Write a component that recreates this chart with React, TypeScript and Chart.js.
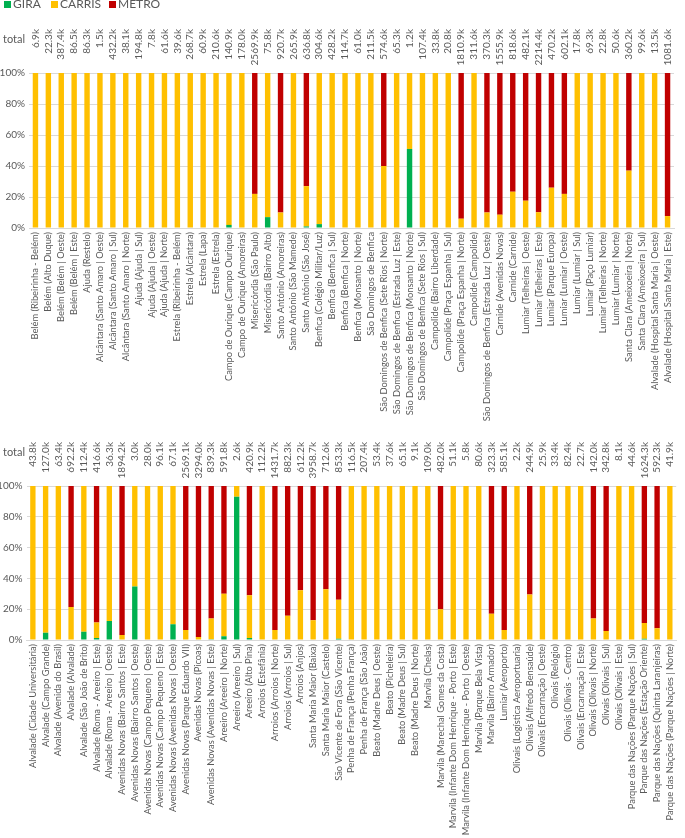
import React, { useEffect, useRef } from 'react';
import { Chart, registerables } from 'chart.js';

Chart.register(...registerables);

const GREEN = '#00b050';
const YELLOW = '#ffc000';
const RED = '#c00000';
const TEXT = '#595959';
const GRID = '#d9d9d9';
const FONT = 'Lato';

const seriesNames = ['GIRA', 'CARRIS', 'METRO'];
const yTickValues = [0, 20, 40, 60, 80, 100];

// ---------- Top panel ----------
const topCategories = [
  'Belém (Ribeirinha - Belém)',
  'Belém (Alto Duque)',
  'Belém (Belém | Oeste)',
  'Belém (Belém | Este)',
  'Ajuda (Restelo)',
  'Alcântara (Santo Amaro | Oeste)',
  'Alcântara (Santo Amaro | Sul)',
  'Alcântara (Santo Amaro | Norte)',
  'Ajuda (Ajuda | Sul)',
  'Ajuda (Ajuda | Oeste)',
  'Ajuda (Ajuda | Norte)',
  'Estrela (Ribeirinha - Belém)',
  'Estrela (Alcântara)',
  'Estrela (Lapa)',
  'Estrela (Estrela)',
  'Campo de Ourique (Campo Ourique)',
  'Campo de Ourique (Amoreiras)',
  'Misericórdia (São Paulo)',
  'Misericórdia (Bairro Alto)',
  'Santo António (Amoreiras)',
  'Santo António (São Mamede)',
  'Santo António (São José)',
  'Benfica (Colégio Militar/Luz)',
  'Benfica (Benfica | Sul)',
  'Benfica (Benfica | Norte)',
  'Benfica (Monsanto | Norte)',
  'São Domingos de Benfica',
  'São Domingos de Benfica (Sete Rios | Norte)',
  'São Domingos de Benfica (Estrada Luz | Este)',
  'São Domingos de Benfica (Monsanto | Norte)',
  'São Domingos de Benfica (Sete Rios | Sul)',
  'Campolide (Bairro Liberdade)',
  'Campolide (Praça Espanha | Sul)',
  'Campolide (Praça Espanha | Norte)',
  'Campolide (Campolide)',
  'São Domingos de Benfica (Estrada Luz | Oeste)',
  'Carnide (Avenidas Novas)',
  'Carnide (Carnide)',
  'Lumiar (Telheiras | Oeste)',
  'Lumiar (Telheiras | Este)',
  'Lumiar (Parque Europa)',
  'Lumiar (Lumiar | Oeste)',
  'Lumiar (Lumiar | Sul)',
  'Lumiar (Paço Lumiar)',
  'Lumiar (Telheiras | Norte)',
  'Lumiar (Lumiar | Norte)',
  'Santa Clara (Ameixoeira | Norte)',
  'Santa Clara (Ameixoeira | Sul)',
  'Alvalade (Hospital Santa Maria | Oeste)',
  'Alvalade (Hospital Santa Maria | Este)',
];

// totals in thousands
const topTotals = [
  6.9, 22.3, 387.4, 86.5, 86.3, 1.5, 432.2, 38.1, 194.8, 7.8,
  61.6, 39.6, 268.7, 60.9, 210.6, 140.9, 178.0, 2569.9, 75.8, 920.7,
  265.9, 636.8, 304.6, 428.2, 114.7, 61.0, 211.5, 574.6, 65.3, 1.2,
  107.4, 33.8, 20.8, 1810.9, 311.6, 370.3, 1555.9, 818.6, 482.1, 2214.4,
  470.2, 602.1, 17.8, 69.3, 22.8, 50.6, 360.2, 99.6, 13.5, 1081.6,
];

// shares in %
const topGira = [
  0, 0, 0, 0, 0, 0, 0, 0, 0, 0,
  0, 0, 0, 0, 0, 2, 0, 0, 7, 0,
  0, 1, 2.5, 0, 0, 0, 0, 0, 0, 51,
  0, 0, 0, 0, 0, 0, 0, 0, 0, 0.5,
  0, 0, 0, 0, 0, 0, 0, 0, 0, 0,
];
const topCarris = [
  100, 100, 100, 100, 100, 100, 100, 100, 100, 100,
  100, 100, 100, 100, 100, 98, 100, 22, 93, 10,
  100, 26, 97.5, 100, 100, 100, 100, 40, 100, 49,
  100, 100, 100, 6, 100, 10, 8.6, 23.4, 17.6, 9.7,
  26, 22, 100, 100, 100, 100, 37, 100, 100, 7.7,
];
const topMetro = [
  0, 0, 0, 0, 0, 0, 0, 0, 0, 0,
  0, 0, 0, 0, 0, 0, 0, 78, 0, 90,
  0, 73, 0, 0, 0, 0, 0, 60, 0, 0,
  0, 0, 0, 94, 0, 90, 91.4, 76.6, 82.4, 89.8,
  74, 78, 0, 0, 0, 0, 63, 0, 0, 92.3,
];

// ---------- Bottom panel ----------
const bottomCategories = [
  'Alvalade (Cidade Universitária)',
  'Alvalade (Campo Grande)',
  'Alvalade (Avenida do Brasil)',
  'Alvalade (Alvalade)',
  'Alvalade (São João de Brito)',
  'Alvalade (Roma - Areeiro | Este)',
  'Alvalade (Roma - Areeiro | Oeste)',
  'Avenidas Novas (Bairro Santos | Este)',
  'Avenidas Novas (Bairro Santos | Oeste)',
  'Avenidas Novas (Campo Pequeno | Oeste)',
  'Avenidas Novas (Campo Pequeno | Este)',
  'Avenidas Novas (Avenidas Novas | Oeste)',
  'Avenidas Novas (Parque Eduardo VII)',
  'Avenidas Novas (Picoas)',
  'Avenidas Novas (Avenidas Novas | Este)',
  'Areeiro (Areeiro | Norte)',
  'Areeiro (Areeiro | Sul)',
  'Areeiro (Alto Pina)',
  'Arroios (Estefânia)',
  'Arroios (Arroios | Norte)',
  'Arroios (Arroios | Sul)',
  'Arroios (Anjos)',
  'Santa Maria Maior (Baixa)',
  'Santa Maria Maior (Castelo)',
  'São Vicente de Fora (São Vicente)',
  'Penha de França (Penha França)',
  'Penha de França (São João)',
  'Beato (Madre Deus | Oeste)',
  'Beato (Picheleira)',
  'Beato (Madre Deus | Sul)',
  'Beato (Madre Deus | Norte)',
  'Marvila (Chelas)',
  'Marvila (Marechal Gomes da Costa)',
  'Marvila (Infante Dom Henrique - Porto | Este)',
  'Marvila (Infante Dom Henrique - Porto | Oeste)',
  'Marvila (Parque Bela Vista)',
  'Marvila (Bairro Armador)',
  'Lumiar (Aeroporto)',
  'Olivais (Logística Aeroportuaria)',
  'Olivais (Alfredo Bensaúde)',
  'Olivais (Encarnação | Oeste)',
  'Olivais (Relógio)',
  'Olivais (Olivais - Centro)',
  'Olivais (Encarnação | Este)',
  'Olivais (Olivais | Norte)',
  'Olivais (Olivais | Sul)',
  'Olivais (Olivais | Este)',
  'Parque das Nações (Parque Nações | Sul)',
  'Parque das Nações (Estação Oriente)',
  'Parque das Nações (Quinta Laranjeiras)',
  'Parque das Nações (Parque Nações | Norte)',
];

const bottomTotals = [
  43.8, 127.0, 63.4, 692.2, 112.4, 416.6, 36.3, 1894.2, 3.0, 28.0,
  96.1, 67.1, 2569.1, 3294.0, 839.3, 591.8, 2.6, 420.9, 112.2, 1431.7,
  882.3, 612.2, 3958.7, 712.6, 853.3, 116.5, 207.4, 53.4, 37.6, 65.1,
  9.1, 109.0, 482.0, 51.1, 5.8, 80.6, 323.3, 585.1, 2.2, 244.9,
  25.9, 33.4, 82.4, 22.7, 142.0, 342.8, 8.1, 44.6, 1624.3, 592.3,
  41.9,
];

const bottomGira = [
  0, 4.7, 0, 0, 5.4, 1.3, 12.3, 0, 34.8, 0,
  0, 10.3, 0, 0, 0.5, 2.4, 93, 1.3, 0, 0,
  0, 0, 0, 0, 0.8, 0, 0, 0, 0, 0,
  0, 0, 0, 0, 0, 0, 0, 0, 0, 0,
  0, 0, 0, 0, 0, 0, 0, 0, 0.8, 0,
  0,
];
const bottomCarris = [
  100, 95.3, 100, 21.5, 94.6, 10, 87.7, 3.2, 65.2, 100,
  100, 89.7, 6.5, 2, 13.5, 27.6, 7, 27.7, 100, 6.5,
  15.7, 32.3, 12.9, 32.9, 25.4, 100, 100, 100, 100, 100,
  100, 100, 20, 100, 100, 100, 17, 6.5, 100, 29.5,
  100, 100, 100, 100, 14, 5.8, 100, 100, 10.2, 7.7,
  100,
];
const bottomMetro = [
  0, 0, 0, 78.5, 0, 88.7, 0, 96.8, 0, 0,
  0, 0, 93.5, 98, 86, 70, 0, 71, 0, 93.5,
  84.3, 67.7, 87.1, 67.1, 73.8, 0, 0, 0, 0, 0,
  0, 0, 80, 0, 0, 0, 83, 93.5, 0, 70.5,
  0, 0, 0, 0, 86, 94.2, 0, 0, 89, 92.3,
  0,
];

type PanelProps = {
  labels: string[];
  gira: number[];
  carris: number[];
  metro: number[];
  totals: number[];
  top: number;
  height: number;
  plotTop: number;
  plotBottom: number;
  plotLeft: number;
  plotRight: number;
  totalsTop: number;
};

function Panel(p: PanelProps) {
  const ref = useRef<HTMLCanvasElement>(null);
  useEffect(() => {
    const canvas = ref.current;
    if (!canvas) return;
    const totalsPlugin = {
      id: 'totalsRow',
      afterDraw(chart: any) {
        const ctx = chart.ctx as CanvasRenderingContext2D;
        const xs = chart.scales.x;
        ctx.save();
        ctx.fillStyle = TEXT;
        ctx.font = `11px ${FONT}`;
        ctx.textAlign = 'left';
        ctx.textBaseline = 'middle';
        ctx.fillText('total', 3, p.totalsTop + 10);
        ctx.font = `10px ${FONT}`;
        p.totals.forEach((t, i) => {
          const px = xs.getPixelForValue(i);
          ctx.save();
          ctx.translate(px, p.totalsTop);
          ctx.rotate(-Math.PI / 2);
          ctx.textAlign = 'right';
          ctx.textBaseline = 'middle';
          ctx.fillText(`${t.toFixed(1)}k`, 0, 0);
          ctx.restore();
        });
        ctx.restore();
      },
    };
    const mk = (i: number, data: number[], color: string) => ({
      label: seriesNames[i],
      data,
      backgroundColor: color,
      borderWidth: 0,
      barPercentage: 0.42,
      categoryPercentage: 1,
    });
    const chart = new Chart(canvas, {
      type: 'bar',
      data: {
        labels: p.labels,
        datasets: [mk(0, p.gira, GREEN), mk(1, p.carris, YELLOW), mk(2, p.metro, RED)],
      },
      options: {
        responsive: false,
        animation: false,
        layout: {
          padding: { top: p.plotTop, right: 685 - p.plotRight, left: 0, bottom: 0 },
        },
        plugins: {
          legend: { display: false },
          tooltip: { enabled: false },
        },
        scales: {
          x: {
            stacked: true,
            grid: { display: false, drawTicks: false },
            border: { display: true, color: GRID, width: 1 },
            ticks: {
              autoSkip: false,
              maxRotation: 90,
              minRotation: 90,
              padding: 4,
              color: TEXT,
              font: { family: FONT, size: 9.3 },
            },
            afterFit: (s: any) => {
              s.height = p.height - p.plotBottom;
            },
          },
          y: {
            stacked: true,
            min: 0,
            max: 100,
            afterBuildTicks: (s: any) => {
              s.ticks = yTickValues.map((v) => ({ value: v }));
            },
            ticks: {
              padding: 4,
              color: TEXT,
              font: { family: FONT, size: 10 },
              callback: (v: any) => `${v}%`,
            },
            grid: { color: GRID, drawTicks: false },
            border: { display: false },
            afterFit: (s: any) => {
              s.width = p.plotLeft;
            },
          },
        },
      },
      plugins: [totalsPlugin],
    } as any);
    return () => chart.destroy();
  }, []);
  return (
    <canvas
      ref={ref}
      width={685}
      height={p.height}
      style={{ position: 'absolute', left: 0, top: p.top, width: 685, height: p.height, display: 'block' }}
    />
  );
}

function Legend() {
  const items = [
    { name: seriesNames[0], color: GREEN, box: 4, text: 13 },
    { name: seriesNames[1], color: YELLOW, box: 51, text: 60 },
    { name: seriesNames[2], color: RED, box: 109, text: 118 },
  ];
  return (
    <>
      {items.map((it) => (
        <React.Fragment key={it.name}>
          <div
            style={{ position: 'absolute', left: it.box, top: 1, width: 7, height: 7, background: it.color }}
          />
          <div
            style={{
              position: 'absolute',
              left: it.text,
              top: -3,
              font: `12px ${FONT}`,
              color: TEXT,
              lineHeight: '14px',
              whiteSpace: 'nowrap',
            }}
          >
            {it.name}
          </div>
        </React.Fragment>
      ))}
    </>
  );
}

export default function App() {
  return (
    <div
      style={{
        position: 'absolute',
        left: 0,
        top: 0,
        width: 685,
        height: 838,
        background: '#ffffff',
        overflow: 'hidden',
        fontFamily: FONT,
      }}
    >
      <Panel
        labels={topCategories}
        gira={topGira}
        carris={topCarris}
        metro={topMetro}
        totals={topTotals}
        top={0}
        height={432}
        plotTop={73}
        plotBottom={228}
        plotLeft={29}
        plotRight={674}
        totalsTop={29}
      />
      <Panel
        labels={bottomCategories}
        gira={bottomGira}
        carris={bottomCarris}
        metro={bottomMetro}
        totals={bottomTotals}
        top={438}
        height={400}
        plotTop={48}
        plotBottom={202}
        plotLeft={26.5}
        plotRight={684.5}
        totalsTop={4}
      />
      <Legend />
    </div>
  );
}
